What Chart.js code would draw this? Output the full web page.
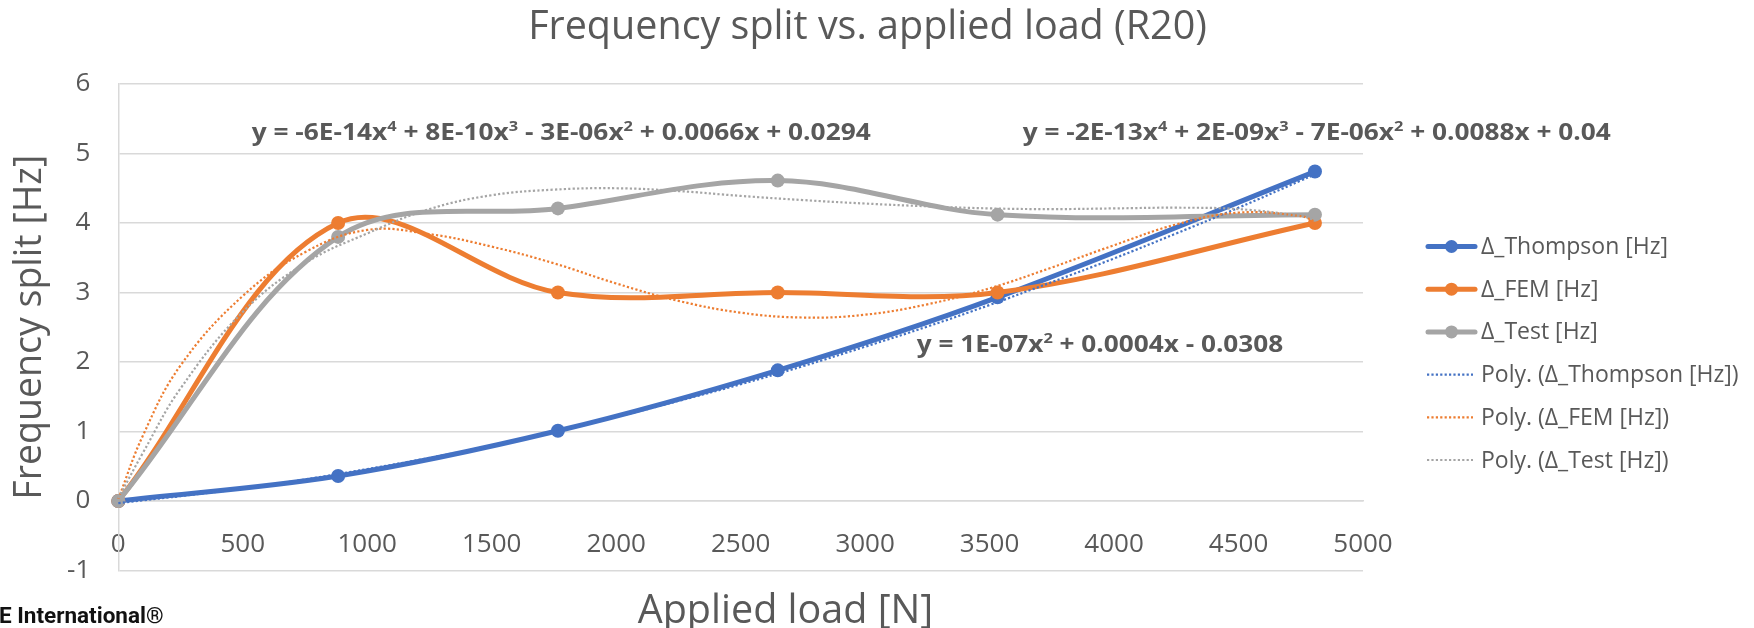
<!DOCTYPE html>
<html><head><meta charset="utf-8">
<script src="https://cdn.jsdelivr.net/npm/chart.js@4/dist/chart.umd.min.js"></script>
<style>html,body{margin:0;padding:0;background:#fff;}#wrap{width:1754px;height:628px;}</style>
</head><body><div id="wrap"><canvas id="c" width="1754" height="628"></canvas></div>
<script>
const chartTitle = 'Frequency split vs. applied load (R20)';
const xTitle = 'Applied load [N]';
const yTitle = 'Frequency split [Hz]';
const creditText = 'E International®';
const seriesNames = ['Δ_Thompson [Hz]', 'Δ_FEM [Hz]', 'Δ_Test [Hz]'];
const trendNames = ['Poly. (Δ_Thompson [Hz])', 'Poly. (Δ_FEM [Hz])', 'Poly. (Δ_Test [Hz])'];
const colors = ['#4472C4', '#ED7D31', '#A5A5A5'];

// measured series
const loads = [0, 883, 1766, 2649, 3532, 4807];
const thompson = [0, 0.36, 1.01, 1.88, 2.93, 4.74];
const fem = [0, 4.0, 3.0, 3.0, 3.0, 4.0];
const test = [0, 3.80, 4.21, 4.61, 4.12, 4.12];

// trendlines
const trendLoads = [0, 100, 250, 500, 750, 1000, 1250, 1500, 1750, 2000, 2250, 2500, 2750, 3000, 3250, 3500, 3750, 4000, 4250, 4500, 4750, 4807];
const thompsonTrend = [-0.03, 0.01, 0.07, 0.18, 0.31, 0.46, 0.62, 0.80, 1.00, 1.21, 1.44, 1.68, 1.94, 2.22, 2.51, 2.82, 3.15, 3.49, 3.85, 4.22, 4.61, 4.70];
const femTrend = [0.03, 0.95, 1.95, 2.95, 3.58, 3.90, 3.84, 3.66, 3.42, 3.13, 2.88, 2.71, 2.64, 2.68, 2.83, 3.06, 3.36, 3.68, 3.98, 4.15, 4.10, 4.02];
const testTrend = [0.04, 0.70, 1.62, 2.72, 3.42, 3.85, 4.20, 4.40, 4.48, 4.50, 4.46, 4.39, 4.33, 4.28, 4.24, 4.21, 4.20, 4.21, 4.22, 4.20, 4.10, 4.05];

// trendline equations (text, superscript flag)
const eqTest = [['y = -6E-14x', 0], ['4', 1], [' + 8E-10x', 0], ['3', 1], [' - 3E-06x', 0], ['2', 1], [' + 0.0066x + 0.0294', 0]];
const eqFem = [['y = -2E-13x', 0], ['4', 1], [' + 2E-09x', 0], ['3', 1], [' - 7E-06x', 0], ['2', 1], [' + 0.0088x + 0.04', 0]];
const eqThompson = [['y = 1E-07x', 0], ['2', 1], [' + 0.0004x - 0.0308', 0]];

const pts = (xs, ys) => xs.map((x, i) => ({x: x, y: ys[i]}));

const FONT = '"Open Sans", "Noto Sans", sans-serif';
const TXT = '#595959';

function drawEq(ctx, segs, left, base, width) {
  ctx.save();
  const bigF = 'bold 24px ' + FONT, smallF = 'bold 15px ' + FONT;
  let w = 0;
  segs.forEach(s => { ctx.font = s[1] ? smallF : bigF; w += ctx.measureText(s[0]).width; });
  ctx.translate(left, base);
  ctx.scale(width / w, 1);
  let x = 0;
  ctx.fillStyle = TXT; ctx.textAlign = 'left'; ctx.textBaseline = 'alphabetic';
  segs.forEach(s => {
    ctx.font = s[1] ? smallF : bigF;
    ctx.fillText(s[0], x, s[1] ? -9 : 0);
    x += ctx.measureText(s[0]).width;
  });
  ctx.restore();
}

const overlay = {
  id: 'overlay',
  afterDraw(chart) {
    const ctx = chart.ctx;
    ctx.save();
    ctx.fillStyle = TXT;
    ctx.textAlign = 'center'; ctx.textBaseline = 'alphabetic';
    ctx.font = '39.5px ' + FONT;
    ctx.fillText(chartTitle, 867.5, 39);
    ctx.font = '39.5px ' + FONT;
    ctx.fillText(xTitle, 785.5, 623);

    // legend
    const names = seriesNames.concat(trendNames);
    const y0 = 246.5, dy = 42.7;
    names.forEach((n, i) => {
      const y = y0 + i * dy;
      const c = colors[i % 3];
      ctx.save();
      if (i < 3) {
        ctx.strokeStyle = c; ctx.lineWidth = 5; ctx.lineCap = 'round';
        ctx.beginPath(); ctx.moveTo(1428, y); ctx.lineTo(1475, y); ctx.stroke();
        ctx.fillStyle = c; ctx.beginPath(); ctx.arc(1451.5, y, 6.5, 0, Math.PI * 2); ctx.fill();
      } else {
        ctx.strokeStyle = c; ctx.lineWidth = 2.2; ctx.setLineDash([2.2, 2.2]);
        ctx.beginPath(); ctx.moveTo(1427, y); ctx.lineTo(1473, y); ctx.stroke();
      }
      ctx.restore();
      ctx.fillStyle = TXT; ctx.textAlign = 'left'; ctx.textBaseline = 'middle';
      ctx.font = '23px ' + FONT;
      ctx.fillText(n, 1481, y + 1);
    });

    drawEq(ctx, eqTest, 251.7, 139.5, 619);
    drawEq(ctx, eqFem, 1022.7, 139.5, 588);
    drawEq(ctx, eqThompson, 916.7, 351.7, 366.6);

    ctx.fillStyle = '#111';
    ctx.textAlign = 'left'; ctx.textBaseline = 'alphabetic';
    ctx.font = 'bold 22.5px Roboto, sans-serif';
    ctx.fillText(creditText, -1, 623);
    ctx.restore();
  }
};

const solid = (label, ys, c, order) => ({
  label: label, data: pts(loads, ys), borderColor: c, backgroundColor: c,
  borderWidth: 5, pointRadius: 7, pointHoverRadius: 7, pointBorderWidth: 0,
  tension: 0.35, order: order, clip: false
});
const dotted = (label, ys, c, order) => ({
  label: label, data: pts(trendLoads, ys), borderColor: c, backgroundColor: c,
  borderWidth: 2.2, borderDash: [2.2, 2.2], pointRadius: 0, tension: 0.4, order: order, clip: false
});

new Chart(document.getElementById('c'), {
  type: 'line',
  data: {
    datasets: [
      solid(seriesNames[0], thompson, colors[0], 5),
      solid(seriesNames[1], fem, colors[1], 4),
      solid(seriesNames[2], test, colors[2], 3),
      dotted(trendNames[0], thompsonTrend, colors[0], 2),
      dotted(trendNames[1], femTrend, colors[1], 1),
      dotted(trendNames[2], testTrend, colors[2], 0)
    ]
  },
  options: {
    responsive: false,
    animation: false,
    devicePixelRatio: 1,
    layout: { padding: { top: 84, right: 391, bottom: 57.5, left: 0 } },
    plugins: { legend: { display: false }, title: { display: false }, tooltip: { enabled: false } },
    scales: {
      x: {
        type: 'linear', min: 0, max: 5000, position: { y: 0 },
        ticks: { stepSize: 500, padding: 28, color: TXT, font: { family: FONT, size: 26 }, callback: v => String(v) },
        grid: { display: false, drawTicks: false },
        border: { display: true, color: '#d9d9d9', width: 1.5 }
      },
      y: {
        type: 'linear', min: -1, max: 6,
        ticks: { stepSize: 1, padding: 28, color: TXT, font: { family: FONT, size: 26 }, callback: v => String(v) },
        grid: { color: '#d9d9d9', lineWidth: 1.5, drawTicks: false },
        border: { display: true, color: '#d9d9d9', width: 1.5 },
        title: { display: true, text: yTitle, color: TXT, font: { family: FONT, size: 37.5 }, padding: { top: 8, bottom: 0 } },
        afterFit(scale) { scale.width = 118.3; }
      }
    }
  },
  plugins: [overlay]
});
</script></body></html>
